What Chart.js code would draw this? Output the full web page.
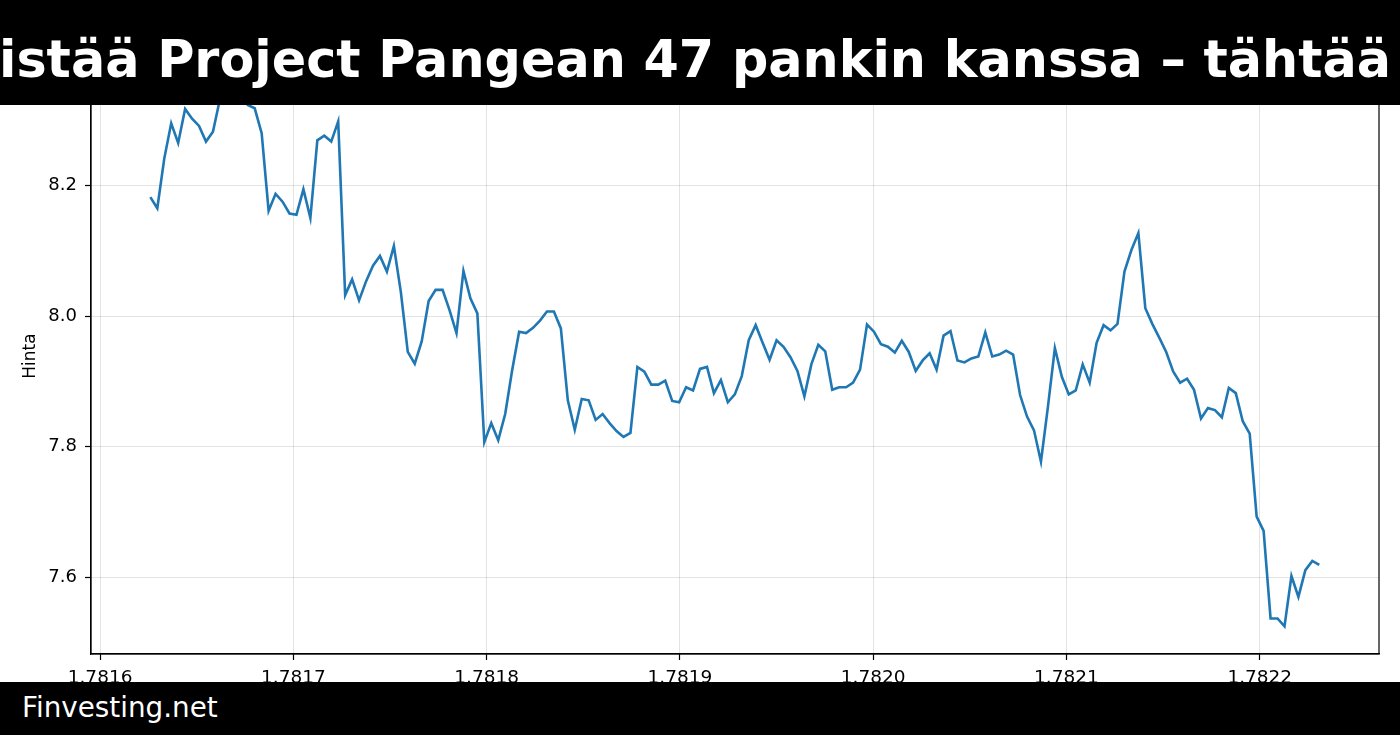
<!DOCTYPE html>
<html><head><meta charset="utf-8">
<script src="https://cdn.jsdelivr.net/npm/chart.js@4/dist/chart.umd.min.js"></script>
<style>
html,body{margin:0;padding:0;background:#fff;width:1400px;height:735px;overflow:hidden;font-family:'DejaVu Sans',sans-serif}
#wrap{position:relative;width:1400px;height:735px}
canvas{position:absolute;left:0;top:0}
#top{position:absolute;left:0;top:0;width:1400px;height:105px;background:#000;overflow:hidden}
#title{position:absolute;left:695px;top:35px;transform:translateX(-50%);white-space:nowrap;color:#fff;font-weight:bold;font-size:50.8px;line-height:50.8px}
#bottom{position:absolute;left:0;top:682px;width:1400px;height:53px;background:#000}
#brand{position:absolute;left:22px;top:12px;color:#fff;font-size:27.8px;line-height:27.8px;white-space:nowrap}
</style></head>
<body>
<div id="wrap">
<canvas id="c" width="1400" height="735"></canvas>
<div id="top"><div id="title">istää Project Pangean 47 pankin kanssa – tähtää</div></div>
<div id="bottom"><div id="brand">Finvesting.net</div></div>
</div>
<script>
// hourly sample times (x axis, ×1e9 s) and prices
const xStart = 1.781626;
const xStep = 0.0000036;
const prices = [
8.182,8.165,8.241,8.295,8.265,8.317,8.302,8.291,8.267,8.282,
8.332,8.350,8.355,8.340,8.323,8.318,8.280,8.161,8.187,8.175,
8.157,8.155,8.194,8.150,8.269,8.276,8.267,8.298,8.032,8.056,
8.024,8.053,8.077,8.092,8.068,8.107,8.037,7.945,7.927,7.961,
8.023,8.040,8.040,8.009,7.974,8.069,8.027,8.004,7.807,7.836,
7.810,7.850,7.917,7.976,7.974,7.982,7.993,8.007,8.007,7.981,
7.871,7.826,7.873,7.871,7.841,7.850,7.836,7.824,7.815,7.821,
7.922,7.915,7.895,7.895,7.901,7.870,7.868,7.891,7.886,7.919,
7.922,7.882,7.902,7.868,7.880,7.908,7.963,7.986,7.959,7.933,
7.963,7.953,7.937,7.916,7.877,7.926,7.956,7.946,7.887,7.891,
7.891,7.898,7.918,7.987,7.976,7.957,7.953,7.944,7.962,7.945,
7.916,7.932,7.943,7.918,7.970,7.977,7.932,7.929,7.935,7.938,
7.975,7.938,7.941,7.947,7.941,7.879,7.846,7.825,7.777,7.861,
7.951,7.907,7.880,7.886,7.926,7.898,7.959,7.986,7.978,7.988,
8.068,8.101,8.127,8.012,7.988,7.967,7.945,7.915,7.898,7.904,
7.887,7.843,7.859,7.856,7.845,7.890,7.882,7.839,7.820,7.693,
7.671,7.537,7.537,7.525,7.602,7.570,7.611,7.625,7.619
];
const xTicks = [1.7816,1.7817,1.7818,1.7819,1.7820,1.7821,1.7822];
const yTicks = [7.6,7.8,8.0,8.2,8.4];
const xRange = [1.7815953, 1.7822617];
const yRange = [7.4826, 8.395];

const points = prices.map((p,i)=>({x: xStart + xStep*i, y: p}));

Chart.defaults.font.family = "'DejaVu Sans', sans-serif";
Chart.defaults.color = '#000';

const frame = {id:'frame', afterDatasetsDraw(c){
  const {ctx, chartArea:a} = c;
  ctx.save(); ctx.strokeStyle='#000'; ctx.lineWidth=1.2;
  ctx.strokeRect(a.left, a.top, a.right-a.left, a.bottom-a.top);
  ctx.restore();
}};

new Chart(document.getElementById('c'), {
  type: 'line',
  data: { datasets: [{ data: points, borderColor: '#1f77b4', borderWidth: 2.6, pointRadius: 0, tension: 0, fill: false }] },
  options: {
    responsive: false, animation: false, devicePixelRatio: 1,
    layout: { padding: { left: 0, right: 21, top: 58, bottom: 0 } },
    plugins: { legend: { display: false }, tooltip: { enabled: false } },
    scales: {
      x: {
        type: 'linear', min: xRange[0], max: xRange[1],
        afterBuildTicks: s => { s.ticks = xTicks.map(v => ({ value: v })); },
        afterFit: s => { s.height = 81; },
        ticks: { callback: v => Number(v).toFixed(4), font: { size: 18.5 }, color: '#000', padding: 7, maxRotation: 0, autoSkip: false },
        grid: { color: 'rgba(0,0,0,0.11)', lineWidth: 1, tickColor: '#000', tickLength: 6, tickWidth: 1.2 },
        border: { color: '#000', width: 1.2 }
      },
      y: {
        type: 'linear', min: yRange[0], max: yRange[1],
        afterBuildTicks: s => { s.ticks = yTicks.map(v => ({ value: v })); },
        afterFit: s => { s.width = 91; },
        ticks: { callback: v => Number(v).toFixed(1), font: { size: 18 }, color: '#000', padding: 8 },
        grid: { color: 'rgba(0,0,0,0.11)', lineWidth: 1, tickColor: '#000', tickLength: 6, tickWidth: 1.2 },
        border: { color: '#000', width: 1.2 },
        title: { display: true, text: 'Hinta', font: { size: 17 }, color: '#000', padding: { top: 20, bottom: 0 } }
      }
    }
  },
  plugins: [frame]
});
</script>
</body></html>
